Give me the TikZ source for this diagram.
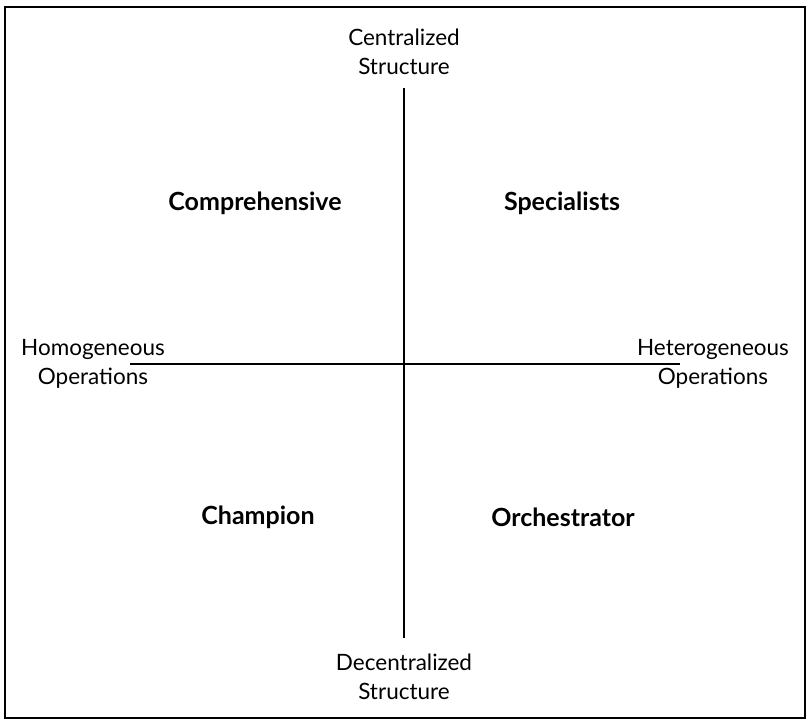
\documentclass[tikz,border=0pt]{standalone}
\usepackage{fontspec}
\setmainfont{Lato}
\begin{document}
\begin{tikzpicture}[x=1pt,y=-1pt,
  axis/.style={line width=2pt,black},
  frame/.style={line width=1.6pt,black},
  lbl/.style={font=\fontsize{22.5}{29}\selectfont,align=center,inner sep=0pt},
  quad/.style={font=\fontsize{25}{30}\selectfont\bfseries,inner sep=0pt}]
\useasboundingbox (0,0) rectangle (810,723);
\draw[frame] (5,7) rectangle (805,718);
\coordinate (top) at (404,88);
\coordinate (bot) at (404,638);
\coordinate (lft) at (130,364);
\coordinate (rgt) at (680,364);
\draw[axis] (top) -- (bot);
\draw[axis] (lft) -- (rgt);
\node[lbl] (cs) at (404,52) {Centralized\\Structure};
\node[lbl] (ds) at (404,677) {Decentralized\\Structure};
\node[lbl] (ho) at (93,364) {Homogeneous\\Operations};
\node[lbl] (he) at (713,364) {Heterogeneous\\Operations};
\node[quad] (comp) at (255,203) {Comprehensive};
\node[quad] (spec) at (562,203) {Specialists};
\node[quad] (champ) at (258,517) {Champion};
\node[quad] (orch) at (563,517) {Orchestrator};
\end{tikzpicture}
\end{document}
